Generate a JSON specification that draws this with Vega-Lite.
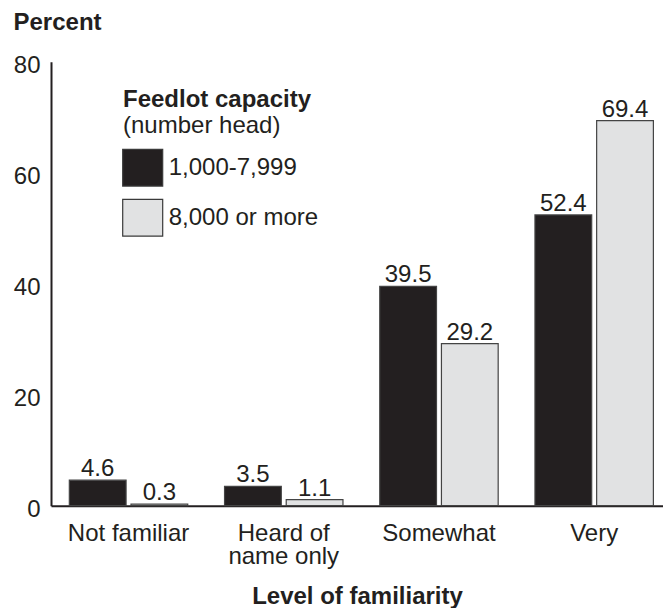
{
  "$schema": "https://vega.github.io/schema/vega-lite/v6.json",
  "width": 612,
  "height": 444,
  "autosize": {"type": "none"},
  "padding": {"left": 51, "top": 61.7, "right": 0, "bottom": 102.3},
  "background": "white",
  "title": {
    "text": "Feedlot capacity",
    "subtitle": "(number head)",
    "anchor": "start",
    "frame": "group",
    "orient": "top",
    "dx": 72,
    "dy": 127,
    "offset": 0,
    "font": "Liberation Sans, Arial, sans-serif",
    "fontSize": 24,
    "fontWeight": "bold",
    "color": "#231f20",
    "subtitleFont": "Liberation Sans, Arial, sans-serif",
    "subtitleFontSize": 24,
    "subtitleColor": "#231f20",
    "subtitlePadding": 2
  },
  "data": {
    "values": [
      {"level": "Not familiar", "capacity": "1,000-7,999", "percent": 4.6},
      {"level": "Not familiar", "capacity": "8,000 or more", "percent": 0.3},
      {"level": "Heard of name only", "capacity": "1,000-7,999", "percent": 3.5},
      {"level": "Heard of name only", "capacity": "8,000 or more", "percent": 1.1},
      {"level": "Somewhat", "capacity": "1,000-7,999", "percent": 39.5},
      {"level": "Somewhat", "capacity": "8,000 or more", "percent": 29.2},
      {"level": "Very", "capacity": "1,000-7,999", "percent": 52.4},
      {"level": "Very", "capacity": "8,000 or more", "percent": 69.4}
    ]
  },
  "encoding": {
    "x": {
      "field": "level",
      "type": "nominal",
      "sort": null,
      "scale": {"paddingInner": 0.237, "paddingOuter": 0.09, "align": 0.656},
      "axis": {
        "title": "Level of familiarity",
        "labelAngle": 0,
        "labelFont": "Liberation Sans, Arial, sans-serif",
        "labelFontSize": 24,
        "labelColor": "#231f20",
        "labelPadding": 16,
        "labelLimit": 0,
        "labelLineHeight": 23,
        "labelExpr": "datum.label == 'Heard of name only' ? ['Heard of', 'name only'] : datum.label",
        "ticks": false,
        "tickSize": 0,
        "domainColor": "#231f20",
        "domainWidth": 2,
        "titleFont": "Liberation Sans, Arial, sans-serif",
        "titleFontSize": 24,
        "titleFontWeight": "bold",
        "titleColor": "#231f20",
        "titleBaseline": "alphabetic",
        "titleY": 98
      }
    },
    "xOffset": {
      "field": "capacity",
      "type": "nominal",
      "sort": null,
      "scale": {"paddingInner": 0.08, "paddingOuter": 0}
    },
    "y": {
      "field": "percent",
      "type": "quantitative",
      "scale": {"domain": [0, 80], "nice": false},
      "axis": {
        "title": "Percent",
        "titleAngle": 0,
        "titleAlign": "left",
        "titleBaseline": "alphabetic",
        "titleX": -38,
        "titleY": -32,
        "titleFont": "Liberation Sans, Arial, sans-serif",
        "titleFontSize": 24,
        "titleFontWeight": "bold",
        "titleColor": "#231f20",
        "values": [0, 20, 40, 60, 80],
        "grid": false,
        "ticks": false,
        "tickSize": 0,
        "labelPadding": 11,
        "labelOffset": 4,
        "labelFont": "Liberation Sans, Arial, sans-serif",
        "labelFontSize": 24,
        "labelColor": "#231f20",
        "domainColor": "#231f20",
        "domainWidth": 2
      }
    }
  },
  "layer": [
    {
      "mark": {"type": "bar", "stroke": "#444444", "strokeWidth": 1.2},
      "encoding": {
        "fill": {
          "field": "capacity",
          "type": "nominal",
          "sort": null,
          "scale": {"domain": ["1,000-7,999", "8,000 or more"], "range": ["#231f20", "#e1e2e3"]},
          "legend": {
            "title": null,
            "orient": "none",
            "legendX": 70.7,
            "legendY": 85,
            "padding": 0,
            "symbolType": "M-1,-0.92H1V0.92H-1Z",
            "symbolSize": 1600,
            "symbolStrokeColor": "#3a3a3a",
            "symbolStrokeWidth": 1.2,
            "labelFont": "Liberation Sans, Arial, sans-serif",
            "labelFontSize": 24,
            "labelColor": "#231f20",
            "labelOffset": 5,
            "labelLimit": 0,
            "rowPadding": 8
          }
        }
      }
    },
    {
      "mark": {"type": "text", "baseline": "alphabetic", "dy": -4, "fontSize": 24, "font": "Liberation Sans, Arial, sans-serif", "color": "#231f20"},
      "encoding": {
        "text": {"field": "percent", "type": "quantitative", "format": ".1f"}
      }
    }
  ],
  "config": {"view": {"stroke": null}}
}
